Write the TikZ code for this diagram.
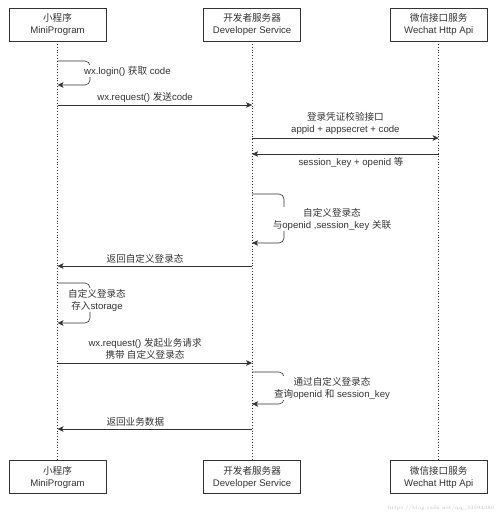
\documentclass[tikz,border=0pt]{standalone}
\usepackage{fontspec}
\setmainfont{Liberation Sans}
\newfontfamily\cjk{Noto Sans CJK SC}
\usetikzlibrary{arrows.meta,positioning}
\definecolor{linecol}{HTML}{333333}
\tikzset{
actor/.style = {draw=linecol, semithick, fill=white, rectangle, align=center, minimum width=97pt, minimum height=33pt, inner sep=0pt},
lifeline/.style = {draw=linecol, dotted, thick},
msg/.style = {draw=linecol, ->, semithick},
selfmsg/.style = {msg, rounded corners=5pt},
note/.style = {align=center, fill=white, inner sep=1pt},
wmark/.style = {font=\fontfamily{lmr}\fontsize{5}{6}\selectfont, text=black!25}
}

\begin{document}
\begin{tikzpicture}[x=1pt, y=-1pt, >={Stealth[length=6pt,width=5.5pt,inset=1.5pt]}, font=\fontsize{9.6}{12}\selectfont, text=linecol]
    \useasboundingbox (0,0) rectangle (500,513);
    % participants
    \node [actor] (mp) at (57.5,24.5) {{\cjk 小程序}\\MiniProgram};
    \node [actor, right=97pt of mp] (ds) {{\cjk 开发者服务器}\\Developer Service};
    \node [actor, right=89pt of ds] (wa) {{\cjk 微信接口服务}\\Wechat Http Api};
    \node [actor, below=419pt of mp] (mp2) {{\cjk 小程序}\\MiniProgram};
    \node [actor, below=419pt of ds] (ds2) {{\cjk 开发者服务器}\\Developer Service};
    \node [actor, below=419pt of wa] (wa2) {{\cjk 微信接口服务}\\Wechat Http Api};
    \draw [lifeline] (mp) -- (mp2);
    \draw [lifeline] (ds) -- (ds2);
    \draw [lifeline] (wa) -- (wa2);

    % login
    \draw [selfmsg] (mp.south |- 0,61) -| (90,73) |- (mp.south |- 0,85);
    \node [note, anchor=west] (login) at (83,71) {wx.login() {\cjk 获取} code};
    \draw [msg] (mp.south |- 0,105) -- (ds.south |- 0,105)
      node [pos=0.45, above, inner sep=2pt] {wx.request() {\cjk 发送}code};
    \draw [msg] (ds.south |- 0,138) -- (wa.south |- 0,138)
      node [midway, above, align=center, inner sep=3pt] {{\cjk 登录凭证校验接口}\\appid + appsecret + code};
    \draw [msg] (wa.south |- 0,154) -- (ds.south |- 0,154)
      node [pos=0.47, below, inner sep=3pt] {session\_key + openid {\cjk 等}};
    \draw [selfmsg] (ds.south |- 0,194) -| (284,218) |- (ds.south |- 0,243);
    \node [note] (bind) at (332,219) {{\cjk 自定义登录态}\\{\cjk 与}openid ,session\_key {\cjk 关联}};
    \draw [msg] (ds.south |- 0,266) -- (mp.south |- 0,266)
      node [pos=0.55, above, inner sep=2pt] {\cjk 返回自定义登录态};
    \draw [selfmsg] (mp.south |- 0,283) -| (90,303) |- (mp.south |- 0,323);
    \node [note] (store) at (97,300) {{\cjk 自定义登录态}\\{\cjk 存入}storage};

    % business request
    \draw [msg] (mp.south |- 0,363) -- (ds.south |- 0,363)
      node [pos=0.45, above, align=center, inner sep=3pt] {wx.request() {\cjk 发起业务请求}\\{\cjk 携带 自定义登录态}};
    \draw [selfmsg] (ds.south |- 0,372) -| (284,388) |- (ds.south |- 0,404);
    \node [note] (query) at (332,388) {{\cjk 通过自定义登录态}\\{\cjk 查询}openid {\cjk 和} session\_key};
    \draw [msg] (ds.south |- 0,429) -- (mp.south |- 0,429)
      node [pos=0.6, above, inner sep=2pt] {\cjk 返回业务数据};

    \node [wmark] (url) at (441,508) {https://blog.csdn.net/qq\_33594380};
\end{tikzpicture}
\end{document}
